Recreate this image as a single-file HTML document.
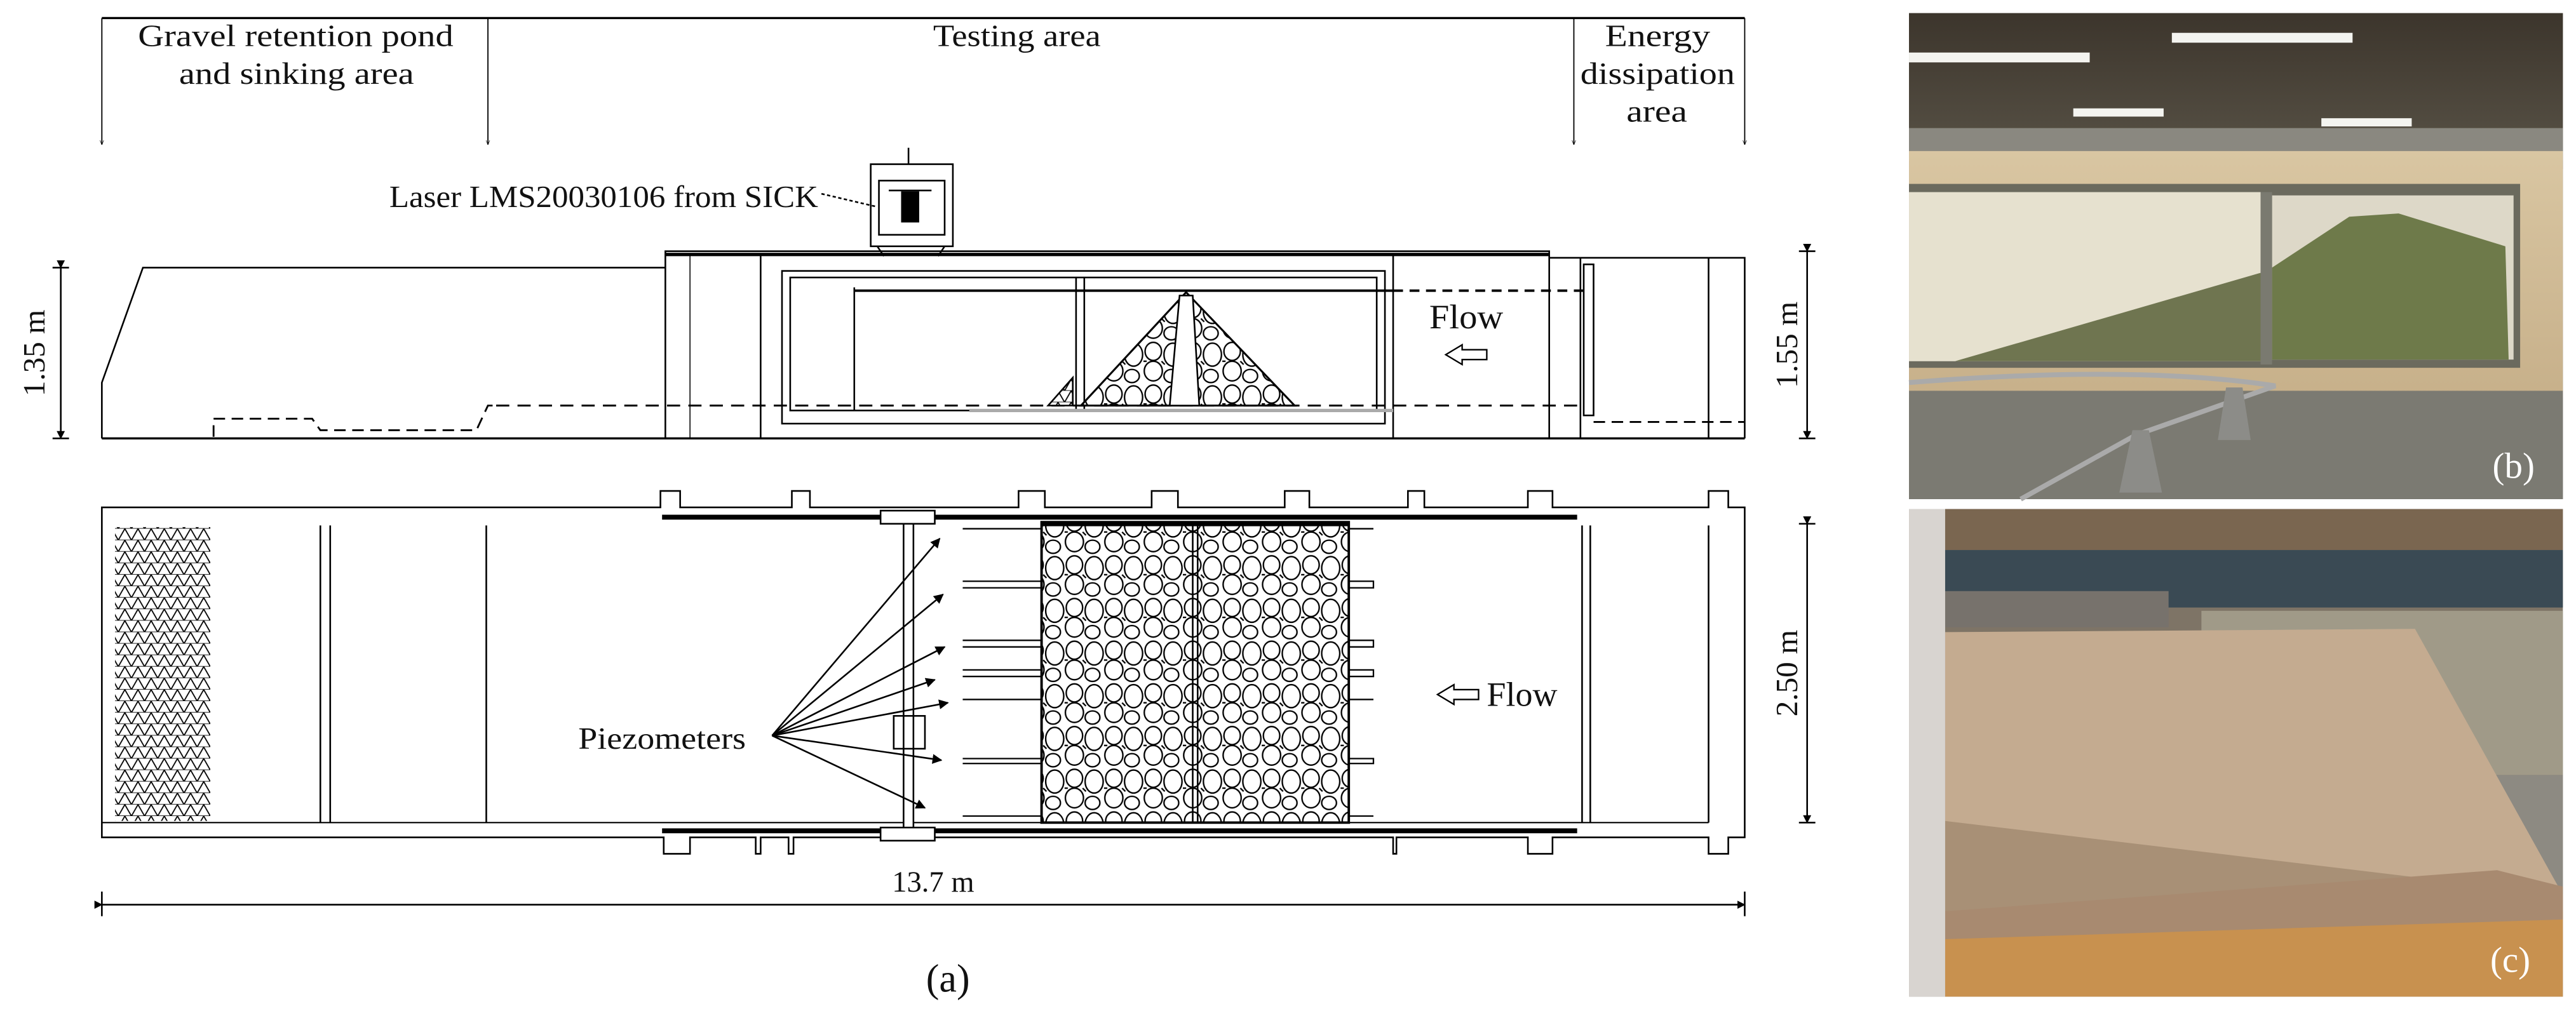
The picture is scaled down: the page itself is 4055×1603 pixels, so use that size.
<!DOCTYPE html>
<html><head><meta charset="utf-8"><style>
html,body{margin:0;padding:0;background:#fff;}
svg{display:block;}
text{font-family:"Liberation Serif",serif;fill:#111;}
</style></head><body>
<svg width="4055" height="1603" viewBox="0 0 1568 620" preserveAspectRatio="none" xmlns="http://www.w3.org/2000/svg">
<defs>
<pattern id="gr" width="24" height="26" patternUnits="userSpaceOnUse">
<rect width="24" height="26" fill="#fff"/>
<g fill="none" stroke="#000" stroke-width="0.9">
<ellipse cx="6" cy="6" rx="5" ry="5.5"/><ellipse cx="18" cy="8" rx="5.5" ry="7"/>
<ellipse cx="6" cy="18" rx="5.5" ry="6"/><ellipse cx="17" cy="21" rx="4.5" ry="4"/>
<path d="M11 12 L13 14 M0 12 L2 12"/></g>
</pattern>
<pattern id="tri" width="8" height="7" patternUnits="userSpaceOnUse">
<rect width="8" height="7" fill="#fff"/>
<path d="M0 7 L4 0 L8 7 M0 7 H8" stroke="#000" stroke-width="0.7" fill="none"/>
</pattern>
<marker id="ah" viewBox="0 0 10 10" refX="9" refY="5" markerWidth="6" markerHeight="6" orient="auto"><path d="M0 0 L10 5 L0 10z" fill="#000"/></marker>
<marker id="ah2" viewBox="0 0 10 10" refX="9" refY="5" markerWidth="5" markerHeight="5" orient="auto"><path d="M0 0 L10 5 L0 10z" fill="#000"/></marker>
<marker id="ao" viewBox="0 0 10 10" refX="9" refY="5" markerWidth="4" markerHeight="4" orient="auto"><path d="M0 1 L10 5 L0 9" fill="none" stroke="#000"/></marker>
<linearGradient id="wallb" x1="0" y1="0" x2="0" y2="1"><stop offset="0" stop-color="#d9c6a2"/><stop offset="1" stop-color="#c7b08a"/></linearGradient>
<linearGradient id="ceil" x1="0" y1="0" x2="0" y2="1"><stop offset="0" stop-color="#3c352c"/><stop offset="1" stop-color="#5a5448"/></linearGradient>
</defs>

<g stroke="#000" fill="none" stroke-width="1">
<line x1="62" y1="11" x2="1062" y2="11" stroke-width="1.3"/>
<line x1="62" y1="11" x2="62" y2="88" marker-end="url(#ao)" stroke-width="0.7"/>
<line x1="297" y1="11" x2="297" y2="88" marker-end="url(#ao)" stroke-width="0.7"/>
<line x1="958" y1="11" x2="958" y2="88" marker-end="url(#ao)" stroke-width="0.7"/>
<line x1="1062" y1="11" x2="1062" y2="88" marker-end="url(#ao)" stroke-width="0.7"/>

<line x1="553" y1="90" x2="553" y2="100"/>
<rect x="530" y="100" width="50" height="50"/>
<rect x="535" y="110" width="40" height="33"/>
<rect x="549" y="117" width="10" height="18" fill="#000"/>
<line x1="541" y1="116" x2="567" y2="116"/>
<path d="M534 150 L538 156 M575 150 L571 156"/>
<line x1="500" y1="118" x2="534" y2="126" stroke-dasharray="2 1.5"/>

<line x1="62" y1="267" x2="1062" y2="267" stroke-width="1.3"/>
<polyline points="62,267 62,233 87,163 405,163"/>
<rect x="405" y="153" width="538" height="114"/>
<line x1="405" y1="155" x2="943" y2="155" stroke-width="2"/>
<line x1="420" y1="155" x2="420" y2="267" stroke-width="0.6"/>
<line x1="463" y1="155" x2="463" y2="267"/>
<line x1="848" y1="155" x2="848" y2="267"/>
<polyline points="943,157 1062,157 1062,267"/>
<line x1="962" y1="157" x2="962" y2="267"/>
<line x1="1040" y1="157" x2="1040" y2="267"/>
<rect x="476" y="165" width="367" height="93"/>
<rect x="481" y="169" width="357" height="81"/>
<line x1="655" y1="169" x2="655" y2="250"/><line x1="660" y1="169" x2="660" y2="250"/>
<line x1="520" y1="175" x2="520" y2="250"/>
<line x1="520" y1="177" x2="848" y2="177" stroke-width="1.5"/>
<line x1="848" y1="177" x2="965" y2="177" stroke-width="1.5" stroke-dasharray="6 4"/>
<rect x="964" y="161" width="6" height="92"/>
<line x1="302" y1="247" x2="965" y2="247" stroke-width="1.2" stroke-dasharray="8 5"/>
<polyline points="130,266 130,255 190,255 195,262 290,262 297,247 302,247" stroke-dasharray="7 4" stroke-width="1.1"/>
<line x1="970" y1="257" x2="1062" y2="257" stroke-dasharray="7 4" stroke-width="1.1"/>
<line x1="590" y1="250" x2="848" y2="250" stroke="#aaa" stroke-width="2"/>
<polygon points="722,178 658,247 788,247" fill="url(#gr)" stroke-width="1.2"/>
<polygon points="718,180 726,180 730,247 712,247" fill="#fff"/>
<polygon points="653,247 638,247 653,230" fill="url(#tri)"/>
<path d="M905 213 H890 V210 L880 216 L890 222 V219 H905 Z" stroke-width="0.9"/>

<line x1="37" y1="163" x2="37" y2="267" marker-start="url(#ah2)" marker-end="url(#ah2)"/>
<line x1="32" y1="163" x2="42" y2="163"/><line x1="32" y1="267" x2="42" y2="267"/>
<line x1="1100" y1="153" x2="1100" y2="267" marker-start="url(#ah2)" marker-end="url(#ah2)"/>
<line x1="1095" y1="153" x2="1105" y2="153"/><line x1="1095" y1="267" x2="1105" y2="267"/>

<path d="M62 309 H402 V299 H414 V309 H482 V299 H493 V309 H620 V299 H636 V309 H701 V299 H717 V309 H782 V299 H797 V309 H857 V299 H867 V309 H930 V299 H945 V309 H1040 V299 H1052 V309 H1062 V510 H1052 V520 H1040 V510 H962 H945 V520 H930 V510 H850 V520 H848 V510 H483 V520 H480 V510 H463 V520 H460 V510 H420 V520 H404 V510 H62 Z"/>
<line x1="62" y1="501" x2="1040" y2="501" stroke-width="0.8"/>
<line x1="1040" y1="320" x2="1040" y2="501"/>
<line x1="403" y1="315" x2="960" y2="315" stroke-width="3"/>
<line x1="403" y1="506" x2="960" y2="506" stroke-width="3"/>
<rect x="70" y="321" width="58" height="179" fill="url(#tri)" stroke="none"/>
<line x1="195" y1="320" x2="195" y2="501"/><line x1="201" y1="320" x2="201" y2="501"/>
<line x1="296" y1="320" x2="296" y2="501"/>
<line x1="963" y1="320" x2="963" y2="501"/><line x1="968" y1="320" x2="968" y2="501"/>
<rect x="550" y="312" width="6" height="198" fill="#fff"/>
<rect x="536" y="311" width="33" height="8" fill="#fff"/>
<rect x="536" y="504" width="33" height="8" fill="#fff"/>
<rect x="544" y="436" width="19" height="20" fill="none"/>
<g stroke-width="0.9">
<path d="M586 322 H634 M586 354 H634 M586 358 H634 M586 390 H634 M586 394 H634 M586 408 H634 M586 412 H634 M586 426 H634 M586 462 H634 M586 465 H634 M586 497 H634"/>
<path d="M821 322 H836 M821 354 H836 V358 H821 M821 390 H836 V394 H821 M821 408 H836 V412 H821 M821 426 H836 M821 462 H836 V465 H821 M821 497 H836"/>
</g>
<rect x="634" y="318" width="187" height="183" fill="url(#gr)" stroke-width="1.5"/>
<line x1="634" y1="319" x2="821" y2="319" stroke-width="3"/>
<line x1="726" y1="318" x2="726" y2="501"/><line x1="729" y1="318" x2="729" y2="501"/>
<g stroke-width="1">
<line x1="470" y1="448" x2="572" y2="328" marker-end="url(#ah)"/>
<line x1="470" y1="448" x2="574" y2="362" marker-end="url(#ah)"/>
<line x1="470" y1="448" x2="575" y2="394" marker-end="url(#ah)"/>
<line x1="470" y1="448" x2="569" y2="414" marker-end="url(#ah)"/>
<line x1="470" y1="448" x2="577" y2="428" marker-end="url(#ah)"/>
<line x1="470" y1="448" x2="573" y2="463" marker-end="url(#ah)"/>
<line x1="470" y1="448" x2="563" y2="492" marker-end="url(#ah)"/>
</g>
<path d="M900 420 H885 V417 L875 423 L885 429 V426 H900 Z" stroke-width="0.9"/>
<line x1="1100" y1="319" x2="1100" y2="501" marker-start="url(#ah2)" marker-end="url(#ah2)"/>
<line x1="1095" y1="319" x2="1105" y2="319"/><line x1="1095" y1="501" x2="1105" y2="501"/>
<line x1="62" y1="551" x2="1062" y2="551" marker-start="url(#ah2)" marker-end="url(#ah2)"/>
<line x1="62" y1="543" x2="62" y2="558"/><line x1="1062" y1="543" x2="1062" y2="558"/>
</g>

<g font-size="19">
<text x="84" y="28" textLength="192" lengthAdjust="spacingAndGlyphs">Gravel retention pond</text>
<text x="109" y="51" textLength="143" lengthAdjust="spacingAndGlyphs">and sinking area</text>
<text x="568" y="28" textLength="102" lengthAdjust="spacingAndGlyphs">Testing area</text>
<text x="977" y="28" textLength="64" lengthAdjust="spacingAndGlyphs">Energy</text>
<text x="962" y="51" textLength="94" lengthAdjust="spacingAndGlyphs">dissipation</text>
<text x="990" y="74" textLength="37" lengthAdjust="spacingAndGlyphs">area</text>
<text x="237" y="126" textLength="261" lengthAdjust="spacingAndGlyphs">Laser LMS20030106 from SICK</text>
<text x="870" y="200" textLength="45" lengthAdjust="spacingAndGlyphs" font-size="21">Flow</text>
<text x="905" y="430" textLength="43" lengthAdjust="spacingAndGlyphs" font-size="21">Flow</text>
<text x="352" y="456" textLength="102" lengthAdjust="spacingAndGlyphs">Piezometers</text>
<text x="568" y="543" text-anchor="middle" font-size="18">13.7 m</text>
<text x="577" y="604" text-anchor="middle" font-size="24">(a)</text>
<text transform="translate(27,215) rotate(-90)" text-anchor="middle" font-size="19">1.35 m</text>
<text transform="translate(1094,210) rotate(-90)" text-anchor="middle" font-size="19">1.55 m</text>
<text transform="translate(1094,410) rotate(-90)" text-anchor="middle" font-size="19">2.50 m</text>
</g>

<g>
<rect x="1162" y="8" width="398" height="296" fill="#5b5750"/>
<rect x="1162" y="8" width="398" height="95" fill="url(#ceil)"/>
<rect x="1162" y="78" width="398" height="20" fill="#8a8880"/>
<rect x="1162" y="32" width="110" height="6" fill="#f4f4f0"/>
<rect x="1322" y="20" width="110" height="6" fill="#f4f4f0"/>
<rect x="1262" y="66" width="55" height="5" fill="#f4f4f0"/>
<rect x="1413" y="72" width="55" height="5" fill="#f4f4f0"/>
<rect x="1162" y="92" width="398" height="150" fill="url(#wallb)"/>
<rect x="1162" y="112" width="372" height="112" fill="#6b6a5e"/>
<rect x="1162" y="117" width="218" height="103" fill="#e6e1cf"/>
<rect x="1383" y="119" width="147" height="100" fill="#ddd8c8"/>
<polygon points="1190,220 1380,165 1380,220" fill="#6f7550"/>
<polygon points="1383,163 1430,132 1460,130 1525,150 1527,219 1383,219" fill="#6e7a4a"/>
<rect x="1376" y="117" width="7" height="105" fill="#7a7a70"/>
<rect x="1162" y="238" width="398" height="66" fill="#7b7a72"/>
<path d="M1162 233 Q1300 222 1385 235 L1300 265 L1230 304" stroke="#aaa" stroke-width="3" fill="none"/>
<polygon points="1298,262 1308,262 1316,300 1290,300" fill="#8c8c88"/>
<polygon points="1355,236 1365,236 1370,268 1350,268" fill="#8c8c88"/>
<text x="1530" y="291" font-size="22" style="fill:#fff" text-anchor="middle">(b)</text>
</g>
<g>
<rect x="1162" y="310" width="398" height="297" fill="#7e7466"/>
<rect x="1162" y="310" width="398" height="25" fill="#7a6650"/>
<rect x="1180" y="335" width="380" height="35" fill="#3a4a54"/>
<rect x="1180" y="360" width="140" height="22" fill="#77726c"/>
<rect x="1340" y="372" width="220" height="100" fill="#a09a88"/>
<rect x="1340" y="472" width="220" height="80" fill="#8d8a82"/>
<polygon points="1184,385 1470,383 1560,545 1560,580 1184,580" fill="#c4ab90"/>
<polygon points="1184,500 1560,545 1560,580 1184,580" fill="#a89076"/>
<rect x="1184" y="555" width="376" height="52" fill="#c8914f"/>
<polygon points="1184,555 1520,530 1560,540 1560,560 1184,572" fill="#a88a70"/>
<rect x="1162" y="310" width="22" height="297" fill="#d8d4d0"/>
<text x="1528" y="592" font-size="22" style="fill:#fff" text-anchor="middle">(c)</text>
</g>
</svg>
</body></html>
